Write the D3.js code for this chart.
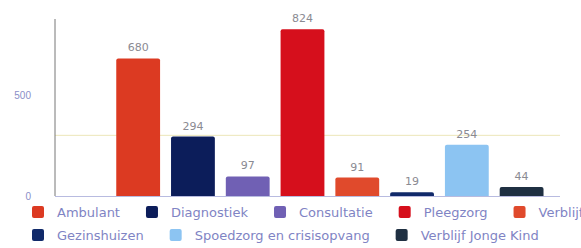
<!DOCTYPE html>
<html>
<head>
<meta charset="utf-8">
<script src="https://cdn.jsdelivr.net/npm/d3@7"></script>
<style>
  body { margin: 0; background: #fff; }
  svg { display: block; font-family: "DejaVu Sans", sans-serif; }
</style>
</head>
<body>
<div id="chart"></div>
<script>
const categories = ["Ambulant", "Diagnostiek", "Consultatie", "Pleegzorg", "Verblijf",
  "Gezinshuizen", "Spoedzorg en crisisopvang", "Verblijf Jonge Kind"];
const values = [680, 294, 97, 824, 91, 19, 254, 44];
const colors = ["#dc3a22", "#0c1d5a", "#7060b4", "#d60f1c", "#e04a2c", "#112a6a", "#8cc4f2", "#1f3042"];
const yTicks = [0, 500];
const refValue = 300;
const legendRows = [[0, 1, 2, 3, 4], [5, 6, 7]];

const width = 581, height = 248;
const svg = d3.select("#chart").append("svg")
  .attr("width", width).attr("height", height);

// first slot stays empty, as in the original
const x = d3.scaleBand()
  .domain([""].concat(categories))
  .range([56, 549])
  .paddingInner(0.2)
  .paddingOuter(0.1);

const y = d3.scaleLinear()
  .domain([0, 900])
  .range([196, 14]);

// faint reference line
svg.append("line")
  .attr("x1", 55).attr("x2", 560)
  .attr("y1", y(refValue)).attr("y2", y(refValue))
  .attr("stroke", "#ece6b8").attr("stroke-width", 1);

// y axis
const yAxis = svg.append("g")
  .attr("transform", "translate(55,0)")
  .call(d3.axisLeft(y).tickValues(yTicks).tickSize(0).tickPadding(24));
yAxis.select(".domain").remove();
yAxis.selectAll("text")
  .attr("fill", "#8a8ec8").style("font-size", "10px");

svg.append("line")
  .attr("x1", 55).attr("x2", 55)
  .attr("y1", 19).attr("y2", y(0))
  .attr("stroke", "#777").attr("stroke-width", 1);

svg.append("line")
  .attr("x1", 55).attr("x2", 560)
  .attr("y1", y(0) + 0.5).attr("y2", y(0) + 0.5)
  .attr("stroke", "#b8bbe0").attr("stroke-width", 1);

// bars
svg.selectAll("path.bar")
  .data(values)
  .join("path")
  .attr("class", "bar")
  .attr("fill", (d, i) => colors[i])
  .attr("d", (d, i) => {
    const x0 = x(categories[i]), w = x.bandwidth();
    const top = y(d), bot = y(0);
    const r = Math.min(2, (bot - top) / 2);
    return `M${x0},${bot}V${top + r}Q${x0},${top} ${x0 + r},${top}` +
      `H${x0 + w - r}Q${x0 + w},${top} ${x0 + w},${top + r}V${bot}Z`;
  });

// value labels
svg.selectAll("text.val")
  .data(values)
  .join("text")
  .attr("class", "val")
  .attr("x", (d, i) => x(categories[i]) + x.bandwidth() / 2)
  .attr("y", d => y(d) - 7)
  .attr("text-anchor", "middle")
  .attr("fill", "#8a8a92")
  .style("font-size", "11px")
  .text(d => d);

// legend
const legend = svg.append("g");
legendRows.forEach((row, r) => {
  let cx = 32;
  const cy = r === 0 ? 212 : 235;
  row.forEach(i => {
    legend.append("rect")
      .attr("x", cx).attr("y", cy - 6)
      .attr("width", 12).attr("height", 12)
      .attr("rx", 2)
      .attr("fill", colors[i]);
    const t = legend.append("text")
      .attr("x", cx + 25).attr("y", cy)
      .attr("dy", "0.35em")
      .attr("fill", "#7f84c4")
      .style("font-size", "13px")
      .text(categories[i]);
    cx += 25 + t.node().getComputedTextLength() + 26;
  });
});
</script>
</body>
</html>
